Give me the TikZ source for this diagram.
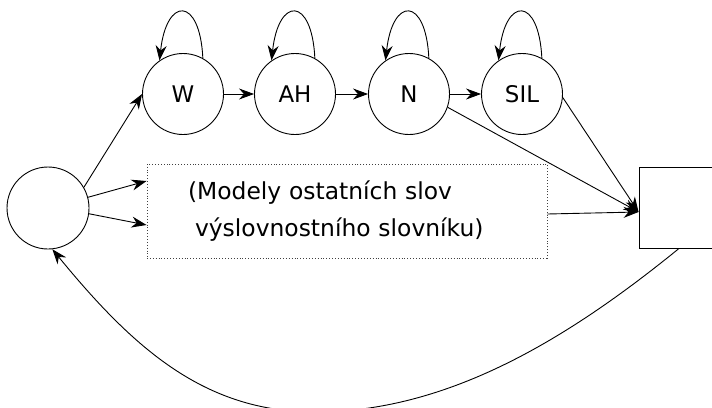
\documentclass[tikz,border=0pt]{standalone}
\usepackage{fontspec}
\setmainfont{DejaVu Sans}
\usetikzlibrary{arrows.meta,calc}
\begin{document}
\begin{tikzpicture}[x=1bp,y=1bp,line width=0.9bp,
  state/.style={circle,draw,minimum size=81bp,inner sep=0pt,
    font=\fontsize{23}{27}\selectfont},
  start/.style={circle,draw,minimum size=82bp,inner sep=0pt},
  wordbox/.style={draw=black!75,dotted,line width=0.9bp,
    minimum width=400bp,minimum height=94bp,
    inner xsep=41bp,text width=318bp,align=left,
    font=\fontsize{23.5}{38}\selectfont},
  endbox/.style={draw,minimum width=80bp,minimum height=81bp,inner sep=0pt},
  edge/.style={-{Stealth[length=15bp,width=11bp]}},
  selfloop/.style={edge}]
\useasboundingbox (0,0) rectangle (712,407);
\clip (0,0) rectangle (712,407);

% states of the word model
\node[start] (L) at (48,199) {};
\node[state] (W)   at (183,313) {W};
\node[state] (AH)  at (295,313) {AH};
\node[state] (N)   at (409,313) {N};
\node[state] (SIL) at (522,313) {SIL};

% remaining words of the dictionary
\node[wordbox] (D) at (347,196)
  {(Modely ostatních slov\\\hspace*{7bp}výslovnostního slovníku)};

% final node
\node[endbox] (R) at (679,199.5) {};
\coordinate (Rin) at ([yshift=-4.5bp]R.west);
\coordinate (low) at (315,-5);

% self-loops
\foreach \s in {W,AH,N,SIL}
  \draw[selfloop] (\s.61) .. controls +(-3,62) and +(7,64) .. (\s.125);

% chain of phonemes
\draw[edge] (W) -- (AH);
\draw[edge] (AH) -- (N);
\draw[edge] (N) -- (SIL);

% entry arrows
\draw[edge] (L.30) -- (W.west);
\draw[edge] (L.15) -- ([yshift=30bp]D.west);
\draw[edge] (L.-8) -- ([yshift=-14bp]D.west);

% into the final node
\draw[edge] (SIL.-5) -- (Rin);
\draw[edge] (N.-19) -- (Rin);
\draw[edge] ([yshift=-3bp]D.east) -- (Rin);

% return loop, passing below the lower edge
\draw[edge] (R.south) .. controls (563.5,64.5) and (445,-5) .. (low)
  .. controls (205,-5) and (134,58) .. (L.-84);
\end{tikzpicture}
\end{document}
